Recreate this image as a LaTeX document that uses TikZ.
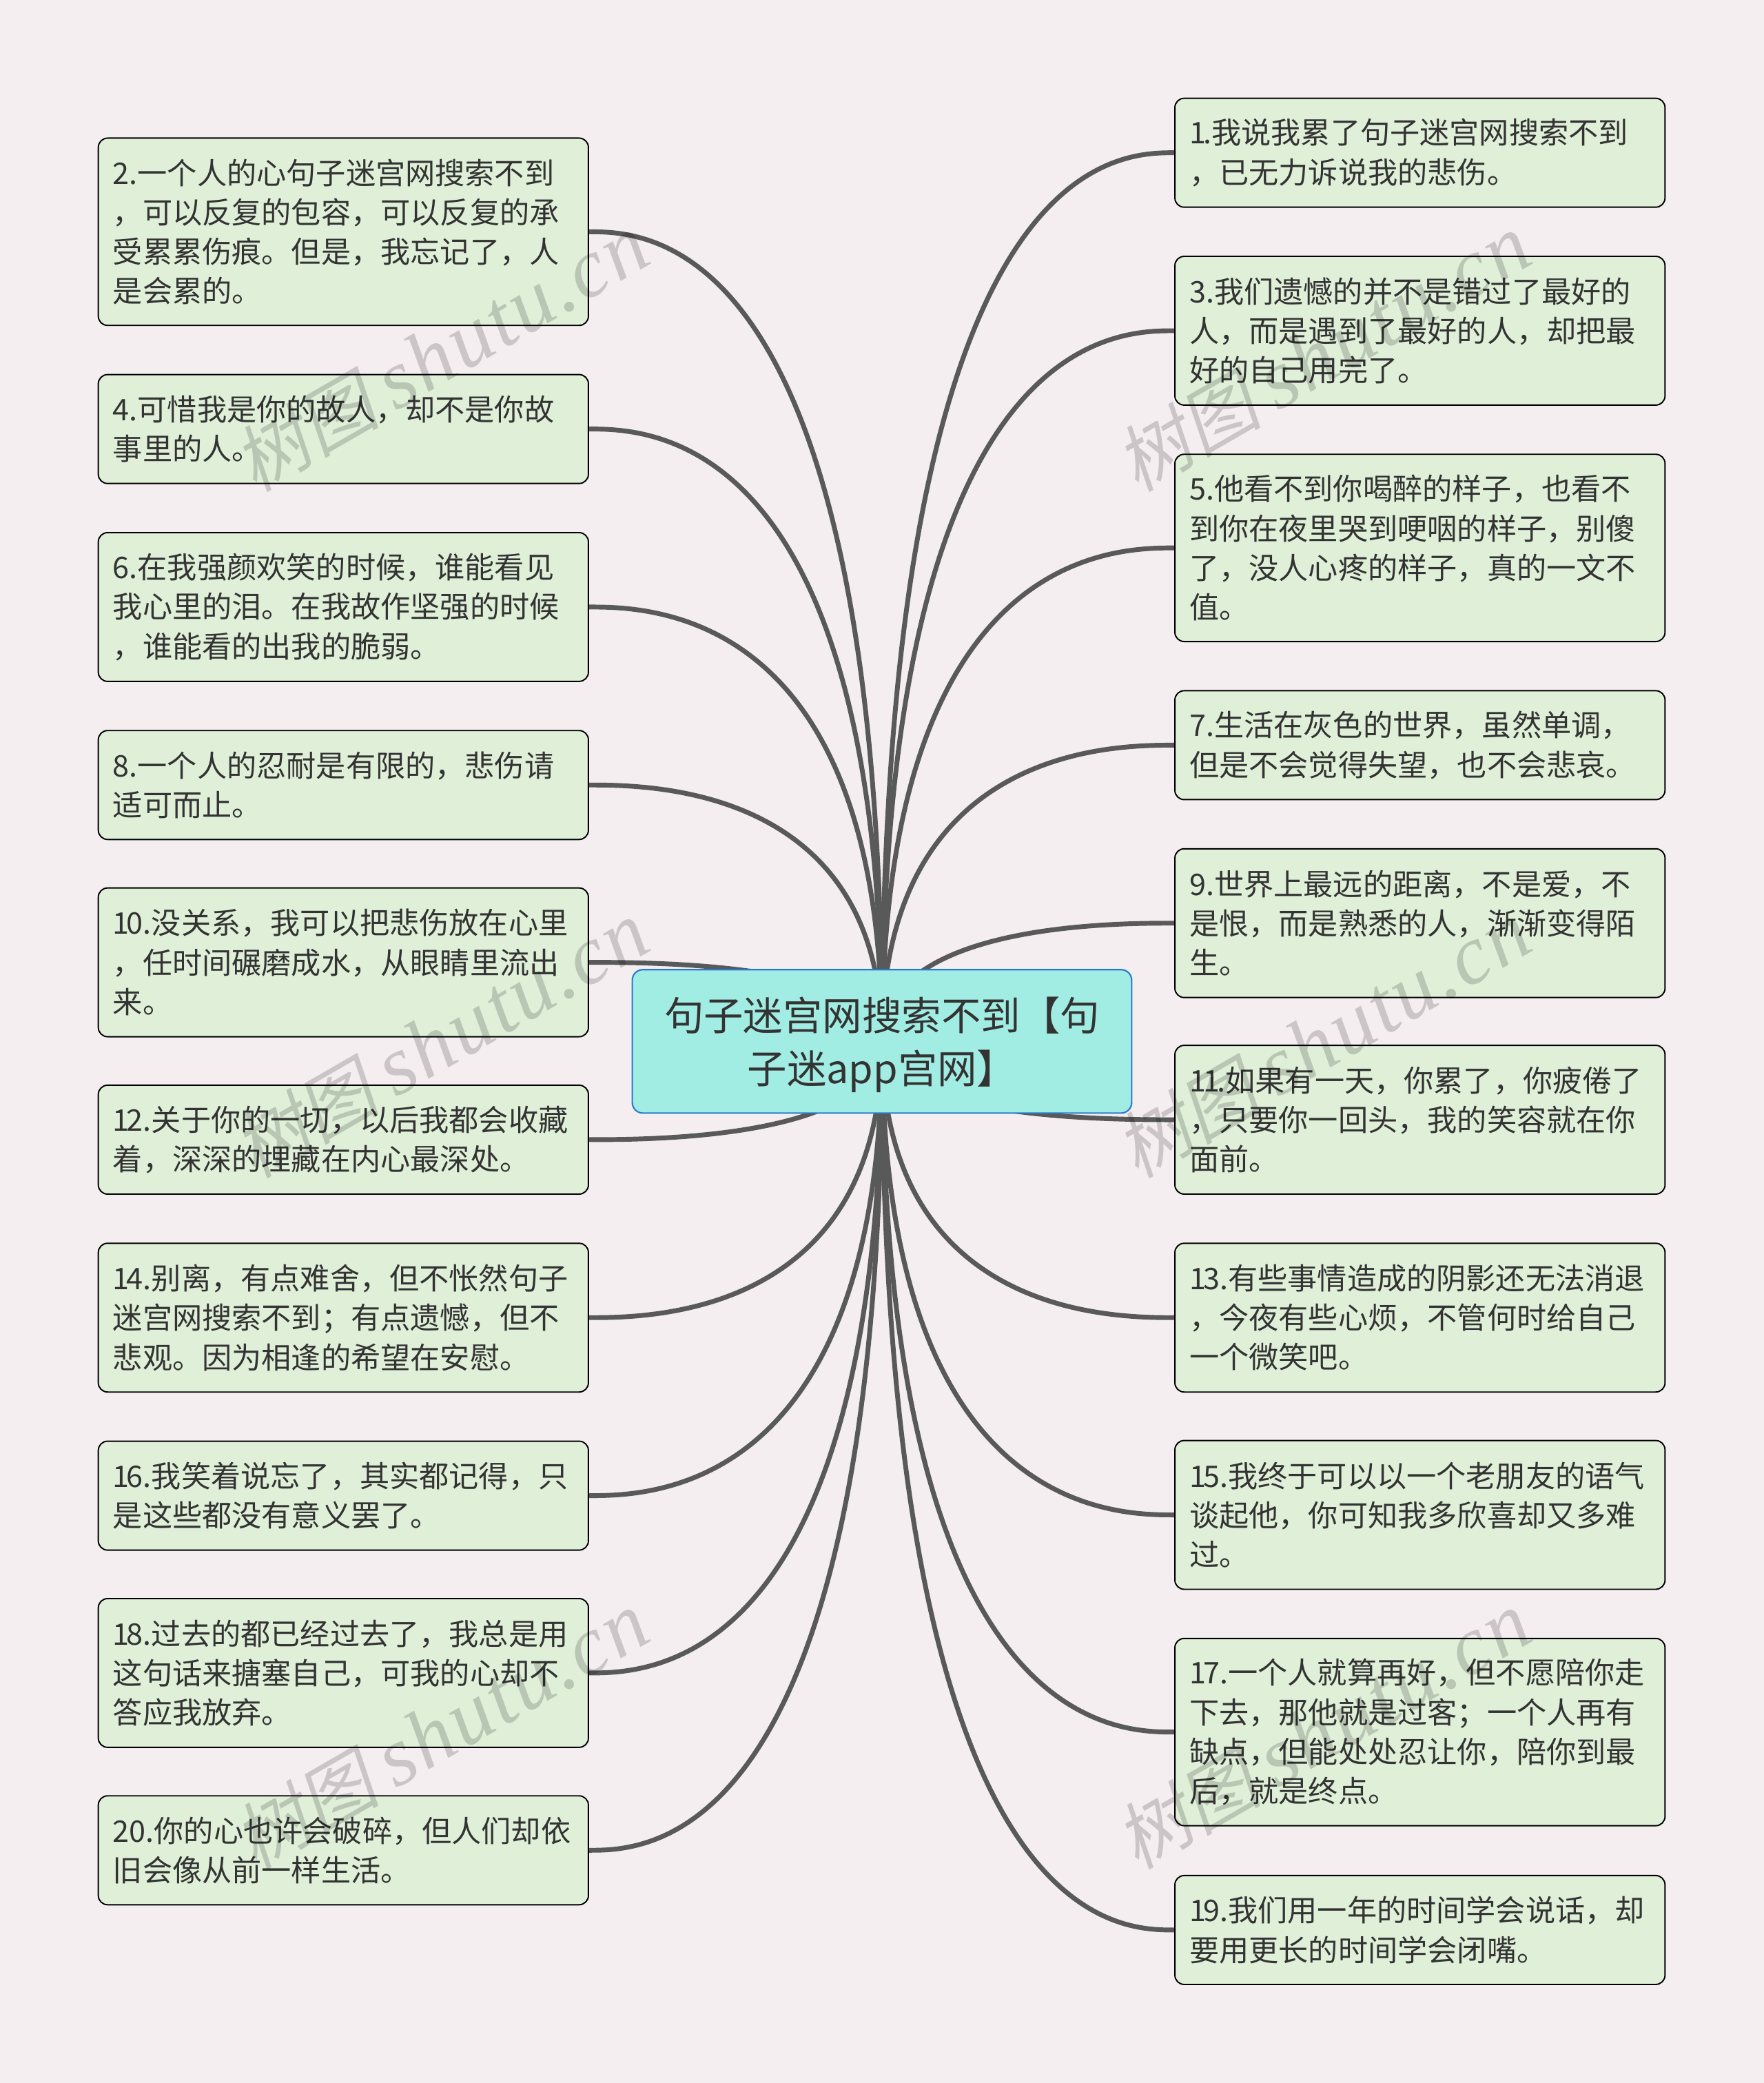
\documentclass[tikz,border=0pt]{standalone}
\usepackage{fontspec}
\setmainfont{Noto Sans CJK SC}
\newfontfamily\wmcjk[FakeSlant=0.2]{Noto Sans CJK SC}
\newfontfamily\wmlatin[LetterSpace=3]{Liberation Serif Italic}
\usetikzlibrary{backgrounds,calc}
\definecolor{pagebg}{HTML}{F5EEF0}
\definecolor{leaffill}{HTML}{DFEFD8}
\definecolor{mainfill}{HTML}{A2EDE3}
\definecolor{mainedge}{HTML}{2B7AD0}
\definecolor{linkgrey}{HTML}{595959}
\definecolor{inkgrey}{HTML}{333333}
\newcommand{\nro}{1\kern-2pt\relax}
\newcommand{\wmtext}{\fontsize{55}{55}\selectfont\wmcjk 树图 \fontsize{63}{63}\selectfont\wmlatin shutu.cn}
\tikzstyle{block} = [draw=black, fill=leaffill, rectangle, rounded corners=7pt, line width=1pt,
text=inkgrey, text width=347pt, inner xsep=11pt, inner ysep=0pt, align=left,
minimum width=369pt, font=\fontsize{22.4}{29.7}\selectfont]
\tikzstyle{main block} = [draw=mainedge, fill=mainfill, rectangle, rounded corners=8pt, line width=1.1pt,
text=inkgrey, text width=340pt, inner xsep=18pt, inner ysep=0pt, align=center,
minimum width=376pt, minimum height=108pt, font=\fontsize{29.8}{40}\selectfont]
\tikzstyle{link} = [draw=linkgrey, line width=3.6pt,
to path={.. controls (\tikztostart |- \tikztotarget) and ($(\tikztostart |- \tikztotarget)!0.8!(\tikztotarget)$) .. (\tikztotarget)}]
\tikzstyle{watermark} = [rotate=30, text=black, opacity=0.17, inner sep=0pt]
\begin{document}
\begin{tikzpicture}

	\useasboundingbox (-664pt,784pt) rectangle (664pt,-784.2pt);

	\node [main block] (root) at (0,0) {\rule{0pt}{30pt}句子迷宫网搜索不到【句\\子迷app宫网】};

	% left column
	\node [block, minimum height=141pt] (n2) at (-405.5pt,609.5pt) {2.一个人的心句子迷宫网搜索不到\\，可以反复的包容，可以反复的承\\受累累伤痕。但是，我忘记了，人\\是会累的。};
	\node [block, minimum height=82pt, below of=n2, node distance=148.5pt] (n4) {4.可惜我是你的故人，却不是你故\\事里的人。};
	\node [block, minimum height=112pt, below of=n4, node distance=134pt] (n6) {6.在我强颜欢笑的时候，谁能看见\\我心里的泪。在我故作坚强的时候\\，谁能看的出我的脆弱。};
	\node [block, minimum height=82pt, below of=n6, node distance=134pt] (n8) {8.一个人的忍耐是有限的，悲伤请\\适可而止。};
	\node [block, minimum height=112pt, below of=n8, node distance=133.5pt] (n10) {\nro 0.没关系，我可以把悲伤放在心里\\，任时间碾磨成水，从眼睛里流出\\来。};
	\node [block, minimum height=82pt, below of=n10, node distance=133.5pt] (n12) {\nro 2.关于你的一切，以后我都会收藏\\着，深深的埋藏在内心最深处。};
	\node [block, minimum height=112pt, below of=n12, node distance=134pt] (n14) {\nro 4.别离，有点难舍，但不怅然句子\\迷宫网搜索不到；有点遗憾，但不\\悲观。因为相逢的希望在安慰。};
	\node [block, minimum height=82pt, below of=n14, node distance=134pt] (n16) {\nro 6.我笑着说忘了，其实都记得，只\\是这些都没有意义罢了。};
	\node [block, minimum height=112pt, below of=n16, node distance=133.5pt] (n18) {\nro 8.过去的都已经过去了，我总是用\\这句话来搪塞自己，可我的心却不\\答应我放弃。};
	\node [block, minimum height=82pt, below of=n18, node distance=133.5pt] (n20) {20.你的心也许会破碎，但人们却依\\旧会像从前一样生活。};

	% right column
	\node [block, minimum height=82pt] (n1) at (405pt,669pt) {\nro.我说我累了句子迷宫网搜索不到\\，已无力诉说我的悲伤。};
	\node [block, minimum height=112pt, below of=n1, node distance=134pt] (n3) {3.我们遗憾的并不是错过了最好的\\人，而是遇到了最好的人，却把最\\好的自己用完了。};
	\node [block, minimum height=141pt, below of=n3, node distance=163.5pt] (n5) {5.他看不到你喝醉的样子，也看不\\到你在夜里哭到哽咽的样子，别傻\\了，没人心疼的样子，真的一文不\\值。};
	\node [block, minimum height=82pt, below of=n5, node distance=148.5pt] (n7) {7.生活在灰色的世界，虽然单调，\\但是不会觉得失望，也不会悲哀。};
	\node [block, minimum height=112pt, below of=n7, node distance=134pt] (n9) {9.世界上最远的距离，不是爱，不\\是恨，而是熟悉的人，渐渐变得陌\\生。};
	\node [block, minimum height=112pt, below of=n9, node distance=148pt] (n11) {\nro\nro.如果有一天，你累了，你疲倦了\\，只要你一回头，我的笑容就在你\\面前。};
	\node [block, minimum height=112pt, below of=n11, node distance=149pt] (n13) {\nro 3.有些事情造成的阴影还无法消退\\，今夜有些心烦，不管何时给自己\\一个微笑吧。};
	\node [block, minimum height=112pt, below of=n13, node distance=148.5pt] (n15) {\nro 5.我终于可以以一个老朋友的语气\\谈起他，你可知我多欣喜却又多难\\过。};
	\node [block, minimum height=141pt, below of=n15, node distance=163.5pt] (n17) {\nro 7.一个人就算再好，但不愿陪你走\\下去，那他就是过客；一个人再有\\缺点，但能处处忍让你，陪你到最\\后，就是终点。};
	\node [block, minimum height=82pt, below of=n17, node distance=149pt] (n19) {\nro 9.我们用一年的时间学会说话，却\\要用更长的时间学会闭嘴。};

	\begin{pgfonlayer}{background}
	\fill [pagebg] (-664pt,784pt) rectangle (664pt,-784.2pt);
	\draw [link] (root.center) to (n2.east);
	\draw [link] (root.center) to (n4.east);
	\draw [link] (root.center) to (n6.east);
	\draw [link] (root.center) to (n8.east);
	\draw [link] (root.center) to (n10.east);
	\draw [link] (root.center) to (n12.east);
	\draw [link] (root.center) to (n14.east);
	\draw [link] (root.center) to (n16.east);
	\draw [link] (root.center) to (n18.east);
	\draw [link] (root.center) to (n20.east);
	\draw [link] (root.center) to (n1.west);
	\draw [link] (root.center) to (n3.west);
	\draw [link] (root.center) to (n5.west);
	\draw [link] (root.center) to (n7.west);
	\draw [link] (root.center) to (n9.west);
	\draw [link] (root.center) to (n11.west);
	\draw [link] (root.center) to (n13.west);
	\draw [link] (root.center) to (n15.west);
	\draw [link] (root.center) to (n17.west);
	\draw [link] (root.center) to (n19.west);
	\end{pgfonlayer}

	% site marks over everything
	\node [watermark] (wm1) at (-332pt,518pt) {\wmtext};
	\node [watermark] (wm2) at (332pt,518pt) {\wmtext};
	\node [watermark] (wm3) at (-332pt,1pt) {\wmtext};
	\node [watermark] (wm4) at (332pt,1pt) {\wmtext};
	\node [watermark] (wm5) at (-332pt,-519pt) {\wmtext};
	\node [watermark] (wm6) at (332pt,-519pt) {\wmtext};

\end{tikzpicture}
\end{document}
